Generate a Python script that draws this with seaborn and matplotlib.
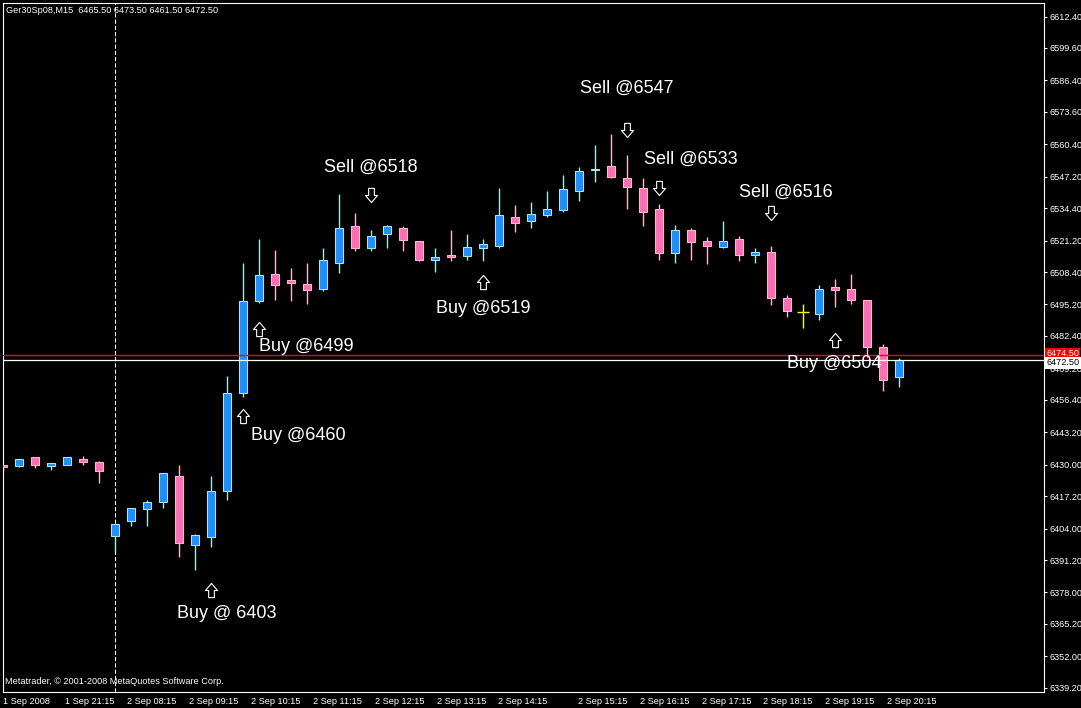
import matplotlib
matplotlib.use("Agg")
import matplotlib.pyplot as plt
import matplotlib.transforms as mtransforms
from matplotlib.path import Path
import seaborn as sns
import numpy as np
import pandas as pd

# ---------------------------------------------------------------
# DATA  (Ger30Sp08, M15 bars)
# ---------------------------------------------------------------
opens = [6430.0, 6429.5, 6433.0, 6429.5, 6430.0, 6432.5, 6431.0, 6401.0, 6407.0, 6412.0,
         6415.0, 6425.5, 6397.5, 6400.5, 6419.5, 6459.0, 6496.5, 6507.5, 6505.0, 6503.5,
         6501.5, 6512.0, 6527.0, 6518.0, 6524.0, 6526.5, 6521.0, 6513.5, 6515.5, 6515.0,
         6518.0, 6519.0, 6531.0, 6529.0, 6531.5, 6533.5, 6541.5, 6550.0, 6551.5, 6546.5,
         6542.5, 6534.0, 6516.0, 6525.5, 6521.0, 6518.5, 6522.0, 6515.5, 6516.5, 6498.0,
         6492.0, 6491.5, 6502.5, 6501.5, 6497.0, 6478.0, 6465.5]
highs = [6430.0, 6432.5, 6433.0, 6430.5, 6433.0, 6433.5, 6431.5, 6406.0, 6412.5, 6415.5,
         6426.5, 6430.0, 6402.0, 6425.5, 6466.0, 6512.0, 6522.0, 6517.5, 6510.0, 6512.0,
         6518.0, 6540.0, 6532.5, 6525.5, 6527.5, 6527.0, 6521.0, 6518.0, 6525.5, 6524.0,
         6522.0, 6542.5, 6535.5, 6537.0, 6541.5, 6548.0, 6551.0, 6560.0, 6564.5, 6556.0,
         6546.5, 6536.0, 6527.5, 6526.5, 6522.5, 6529.0, 6523.0, 6518.0, 6519.0, 6499.0,
         6495.5, 6503.0, 6505.5, 6507.5, 6497.0, 6479.0, 6473.5]
lows = [6427.0, 6429.0, 6428.5, 6428.0, 6430.0, 6430.0, 6422.5, 6394.5, 6405.0, 6405.0,
        6412.5, 6392.5, 6387.0, 6396.5, 6415.5, 6457.5, 6496.0, 6497.0, 6496.5, 6495.5,
        6500.5, 6508.0, 6517.0, 6517.0, 6518.0, 6517.0, 6513.0, 6508.5, 6513.0, 6513.5,
        6513.0, 6518.0, 6524.5, 6526.5, 6531.0, 6533.0, 6537.5, 6545.0, 6546.5, 6534.0,
        6527.0, 6513.5, 6512.0, 6513.5, 6511.5, 6518.0, 6513.0, 6512.0, 6495.0, 6490.0,
        6485.5, 6489.0, 6494.0, 6495.5, 6474.0, 6460.0, 6461.5]
closes = [6429.0, 6432.5, 6430.0, 6430.5, 6433.0, 6431.0, 6427.5, 6406.0, 6412.5, 6415.0,
          6426.5, 6398.0, 6401.5, 6419.5, 6459.0, 6496.5, 6507.0, 6503.0, 6504.0, 6501.0,
          6513.5, 6526.5, 6518.0, 6523.0, 6527.0, 6521.5, 6513.5, 6514.5, 6514.5, 6518.5,
          6520.0, 6531.5, 6528.5, 6532.0, 6534.0, 6542.0, 6549.5, 6550.5, 6547.0, 6543.0,
          6533.0, 6516.0, 6525.5, 6520.5, 6519.0, 6521.0, 6515.5, 6516.5, 6498.0, 6492.5,
          6492.0, 6501.5, 6501.0, 6497.0, 6478.0, 6464.5, 6472.5]

ask_price = 6474.50
bid_price = 6472.50
separator_bar = 7

price_ticks = [6339.2, 6352.0, 6365.2, 6378.0, 6391.2, 6404.0, 6417.2, 6430.0, 6443.2,
               6456.4, 6469.2, 6482.4, 6495.2, 6508.4, 6521.2, 6534.4, 6547.2, 6560.4,
               6573.6, 6586.4, 6599.6, 6612.4]
time_ticks = [0, 3.875, 7.75, 11.625, 15.5, 19.375, 23.25, 27.125, 30.94, 35.94,
              39.81, 43.69, 47.5, 51.375, 55.25]
time_labels = ["1 Sep 2008", "1 Sep 21:15", "2 Sep 08:15", "2 Sep 09:15", "2 Sep 10:15",
               "2 Sep 11:15", "2 Sep 12:15", "2 Sep 13:15", "2 Sep 14:15", "2 Sep 15:15",
               "2 Sep 16:15", "2 Sep 17:15", "2 Sep 18:15", "2 Sep 19:15", "2 Sep 20:15"]

# trade signals
signal_text = ["Buy @ 6403", "Buy @6460", "Buy @6499", "Sell @6518", "Buy @6519",
               "Sell @6547", "Sell @6533", "Sell @6516", "Buy @6504"]
signal_bar = [13, 15, 16, 23, 30, 39, 41, 48, 52]
signal_side = ["buy", "buy", "buy", "sell", "buy", "sell", "sell", "sell", "buy"]

# annotation layout (bar units / price units)
text_x = [13.96, 18.47, 18.98, 22.97, 30.0, 38.97, 42.97, 48.96, 51.98]
text_y = [6369.6, 6441.8, 6478.1, 6550.9, 6493.5, 6583.1, 6554.2, 6541.0, 6471.1]
arrow_y = [6379.1, 6449.9, 6485.4, 6539.9, 6504.5, 6566.4, 6542.8, 6532.6, 6480.9]

# ---------------------------------------------------------------
# STYLE
# ---------------------------------------------------------------
sns.set_style("dark", {
    "axes.facecolor": "black",
    "figure.facecolor": "black",
    "axes.edgecolor": "white",
    "text.color": "white",
    "xtick.color": "white",
    "ytick.color": "white",
})
plt.rcParams["font.family"] = ["Liberation Sans", "DejaVu Sans"]

BULL_FILL = "#1E90FF"
BULL_EDGE = "#A8E6F0"
BEAR_FILL = "#FF6EB4"
BEAR_EDGE = "#FFB8D4"
DOJI = "#FFFF00"

W, H = 1081, 708
fig = plt.figure(figsize=(W / 100, H / 100), dpi=100)
ax = fig.add_axes([2.5 / W, 1 - 691.5 / H, 1041 / W, 689 / H])

df = pd.DataFrame({"open": opens, "high": highs, "low": lows, "close": closes})
df["bar"] = np.arange(len(df))
df["kind"] = np.where(df["close"] > df["open"], "bull",
                      np.where(df["close"] < df["open"], "bear", "doji"))

wick_col = df["kind"].map({"bull": BULL_EDGE, "bear": BEAR_EDGE, "doji": DOJI})
ax.vlines(df["bar"], df["low"], df["high"], colors=wick_col, linewidth=1.0, zorder=2)

for kind, fc, ec in [("bull", BULL_FILL, BULL_EDGE), ("bear", BEAR_FILL, BEAR_EDGE)]:
    sub = df[df["kind"] == kind]
    bottom = np.minimum(sub["open"], sub["close"])
    height = (sub["open"] - sub["close"]).abs()
    ax.bar(sub["bar"], height, bottom=bottom, width=0.56, color=fc,
           edgecolor=ec, linewidth=0.75, zorder=3)

dj = df[df["kind"] == "doji"]
ax.hlines(dj["open"], dj["bar"] - 0.35, dj["bar"] + 0.35, colors=DOJI, linewidth=1.0, zorder=3)

# period separator and price lines
ax.axvline(separator_bar, color="white", linewidth=0.75, linestyle=(0, (4, 2)), zorder=1)
ax.axhline(ask_price, color="#FF0000", linewidth=1.0, zorder=4)
ax.axhline(bid_price, color="white", linewidth=0.9, zorder=4)

# signal arrows (hollow block arrows)
up_verts = [(0, 0.5), (0.42, 0.0), (0.2, 0.0), (0.2, -0.5), (-0.2, -0.5),
            (-0.2, 0.0), (-0.42, 0.0), (0, 0.5)]
up_arrow = Path(up_verts, closed=True)
down_arrow = Path([(x, -y) for x, y in up_verts], closed=True)
for side, marker in [("buy", up_arrow), ("sell", down_arrow)]:
    idx = [i for i, s in enumerate(signal_side) if s == side]
    ax.scatter([signal_bar[i] for i in idx], [arrow_y[i] for i in idx], marker=marker,
               s=105, facecolors="black", edgecolors="white", linewidths=0.8, zorder=6)

for txt, x, y in zip(signal_text, text_x, text_y):
    ax.text(x, y, txt, color="white", fontsize=13, ha="center", va="center", zorder=7)

# axes
ax.set_xlim(-0.03, 65.03)
ax.set_ylim(6337.7, 6618.1)
ax.grid(False)
for sp in ax.spines.values():
    sp.set_color("white")
    sp.set_linewidth(0.8)

ax.yaxis.tick_right()
ax.set_yticks(price_ticks)
ax.set_yticklabels([f"{v:.2f}" for v in price_ticks])
ax.set_xticks(time_ticks)
ax.set_xticklabels(time_labels)
for lbl in ax.get_xticklabels():
    lbl.set_horizontalalignment("left")
ax.tick_params(axis="both", direction="out", length=2.5, width=0.8, colors="white",
               labelsize=6.6, pad=1.5)
ax.set_xlabel("")
ax.set_ylabel("")

# price boxes on the scale (the bid box sits over the ask box, as in the terminal)
blend = mtransforms.blended_transform_factory(ax.transAxes, ax.transData)
ax.text(1.0025, ask_price + 0.8, f"{ask_price:.2f}", transform=blend, ha="left", va="center",
        fontsize=6.6, color="white", clip_on=False, zorder=10,
        bbox=dict(boxstyle="square,pad=0.15", fc="#FF0000", ec="none"))
ax.text(1.0025, bid_price - 1.0, f"{bid_price:.2f}", transform=blend, ha="left", va="center",
        fontsize=6.6, color="black", clip_on=False, zorder=11,
        bbox=dict(boxstyle="square,pad=0.15", fc="white", ec="none"))

# header & footer
fig.text(6 / W, 1 - 10.5 / H, "Ger30Sp08,M15  6465.50 6473.50 6461.50 6472.50",
         fontsize=6.6, color="white", ha="left", va="center")
fig.text(5 / W, 1 - 681.5 / H, "Metatrader, \u00a9 2001-2008 MetaQuotes Software Corp.",
         fontsize=6.6, color="white", ha="left", va="center")

fig.savefig("out.png", dpi=100, facecolor="black")
plt.close(fig)
